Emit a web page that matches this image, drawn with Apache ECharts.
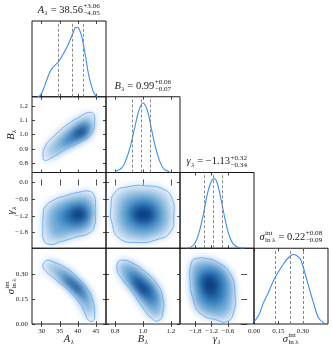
<!DOCTYPE html>
<html>
<head>
<meta charset="utf-8">
<script src="https://cdn.jsdelivr.net/npm/echarts@6/dist/echarts.min.js"></script>
<style>
  html, body { margin: 0; padding: 0; background: #fff; }
  #chart { width: 332px; height: 348px; }
</style>
</head>
<body>
<div id="chart"></div>
<script>
// ---- data ----
// 1D marginals (relative density, peak = 1)
const A_grid = [28.8, 29.6, 30.4, 31.3, 32.3, 33.2, 34.6, 36.0, 37.4, 38.6, 39.5, 40.2, 41.1, 42.0, 42.9, 43.8, 44.6, 45.4]
const A_dens = [0.0, 0.02, 0.10, 0.23, 0.36, 0.43, 0.50, 0.62, 0.76, 0.91, 1.0, 0.99, 0.86, 0.62, 0.34, 0.15, 0.04, 0.0]
const B_grid = [0.80, 0.85, 0.88, 0.91, 0.94, 0.97, 1.00, 1.03, 1.06, 1.09, 1.12, 1.15, 1.19]
const B_dens = [0.01, 0.07, 0.19, 0.38, 0.64, 0.89, 1.0, 0.90, 0.63, 0.36, 0.16, 0.05, 0.01]
const g_grid = [-2.1, -1.95, -1.8, -1.65, -1.5, -1.35, -1.2, -1.1, -1.0, -0.85, -0.7, -0.55, -0.4, -0.2, 0.0]
const g_dens = [0.0, 0.02, 0.08, 0.24, 0.49, 0.79, 0.97, 1.0, 0.95, 0.70, 0.41, 0.18, 0.06, 0.01, 0.0]
const s_grid = [0.0, 0.03, 0.057, 0.09, 0.119, 0.15, 0.18, 0.21, 0.242, 0.283, 0.30, 0.324, 0.345, 0.365, 0.396, 0.426, 0.45]
const s_dens = [0.03, 0.13, 0.30, 0.46, 0.62, 0.75, 0.86, 0.95, 1.0, 0.94, 0.84, 0.64, 0.47, 0.31, 0.09, 0.02, 0.0]

// 16/50/84 percentiles
const A_q = [34.51, 38.56, 41.62]
const B_q = [0.92, 0.99, 1.05]
const g_q = [-1.47, -1.13, -0.81]
const s_q = [0.13, 0.22, 0.30]

// tick labels
const A_ticks = [30, 35, 40, 45]
const B_xticks = [0.8, 1.0, 1.2]
const B_yticks = [0.8, 0.9, 1.0, 1.1, 1.2]
const g_xticks = [-1.8, -1.2, -0.6]
const g_yticks = [0.0, -0.6, -1.2, -1.8]
const s_ticks = [0.0, 0.15, 0.30]

// 2D densities: outer contour, mid, inner, core levels
const AB_c = [[30.4,0.832],[30.9,0.914],[33.2,0.985],[36.9,1.067],[40.6,1.126],[42.9,1.154],[44.3,1.145],[44.6,1.079],[43.8,1.008],[41.5,0.961],[36.9,0.902],[32.3,0.832],[30.9,0.82]]
const AB_m = [[32.5,0.88],[35,0.96],[38.5,1.04],[41.5,1.09],[43.5,1.10],[43.6,1.05],[42,0.99],[38.5,0.94],[34.5,0.88],[32.5,0.85]]
const AB_i = [[35.5,0.94],[38.5,1.01],[41.5,1.07],[43,1.065],[42.5,1.01],[40,0.97],[37,0.93]]
const AB_k = [[38.5,0.99],[40.5,1.035],[42,1.05],[42,1.01],[40.5,0.99]]

const Ag_c = [[30.4,-1.18],[30.9,-0.88],[33.2,-0.64],[36.9,-0.46],[40.6,-0.34],[42.9,-0.31],[44.5,-0.46],[44.8,-1.0],[44.5,-1.6],[42.9,-1.83],[39.7,-1.95],[35.1,-2.13],[32.3,-2.22],[30.6,-2.07],[30.3,-1.6]]
const Ag_m = [[32,-1.5],[32.5,-1.0],[35,-0.75],[38.5,-0.6],[42,-0.55],[43.8,-0.75],[43.8,-1.35],[42,-1.7],[38,-1.82],[34,-1.95]]
const Ag_i = [[35,-1.3],[36.5,-0.95],[39.5,-0.8],[42.3,-0.85],[43,-1.2],[41.5,-1.5],[38,-1.55]]
const Ag_k = [[38,-1.15],[39.5,-0.95],[41.5,-1.0],[42,-1.2],[40.5,-1.35],[38.5,-1.3]]

const As_c = [[30.9,0.373],[30.3,0.353],[30.9,0.323],[34.1,0.263],[37.8,0.193],[40.6,0.124],[42.0,0.064],[42.9,0.024],[44.3,0.02],[44.6,0.064],[44.1,0.144],[42.5,0.214],[40.1,0.274],[36.9,0.334],[33.2,0.373],[31.8,0.383]]
const As_m = [[32,0.35],[35,0.29],[38.5,0.215],[41.2,0.14],[42.8,0.06],[43.8,0.07],[43.4,0.15],[41.5,0.22],[38.5,0.28],[35,0.335],[32.5,0.365]]
const As_i = [[34.5,0.3],[37.5,0.24],[40.5,0.17],[42.2,0.13],[42,0.19],[39.5,0.25],[36,0.305]]
const As_k = [[36.5,0.26],[38.5,0.225],[40.5,0.185],[40.5,0.215],[38.5,0.25],[37,0.27]]

const Bg_c = [[0.80,-0.35],[0.90,-0.15],[1.02,-0.12],[1.15,-0.25],[1.21,-0.6],[1.22,-1.2],[1.2,-1.75],[1.1,-2.05],[0.95,-2.15],[0.83,-2.0],[0.78,-1.5],[0.77,-0.9]]
const Bg_m = [[0.83,-1.0],[0.86,-0.55],[0.96,-0.4],[1.1,-0.5],[1.16,-0.9],[1.16,-1.5],[1.08,-1.85],[0.94,-1.9],[0.85,-1.6]]
const Bg_i = [[0.89,-1.0],[0.95,-0.7],[1.06,-0.72],[1.11,-1.1],[1.08,-1.5],[0.97,-1.6],[0.9,-1.35]]
const Bg_k = [[0.94,-1.05],[1.0,-0.9],[1.06,-1.0],[1.06,-1.3],[1.0,-1.4],[0.95,-1.3]]

const Bs_c = [[0.823,0.373],[0.816,0.323],[0.847,0.274],[0.93,0.184],[1.002,0.094],[1.062,0.034],[1.11,0.02],[1.141,0.064],[1.141,0.163],[1.098,0.244],[1.002,0.323],[0.907,0.373],[0.847,0.383]]
const Bs_m = [[0.84,0.35],[0.87,0.28],[0.95,0.19],[1.04,0.09],[1.11,0.05],[1.125,0.13],[1.09,0.22],[1.0,0.3],[0.9,0.36]]
const Bs_i = [[0.89,0.3],[0.95,0.22],[1.03,0.14],[1.09,0.12],[1.08,0.2],[1.0,0.27],[0.93,0.31]]
const Bs_k = [[0.93,0.26],[0.98,0.2],[1.03,0.17],[1.04,0.21],[0.99,0.25],[0.95,0.27]]

const gs_c = [[-1.93,0.373],[-1.99,0.263],[-1.87,0.144],[-1.62,0.064],[-1.01,0.024],[-0.64,0.014],[-0.40,0.064],[-0.34,0.184],[-0.52,0.304],[-1.01,0.373],[-1.38,0.393],[-1.75,0.393]]
const gs_m = [[-1.85,0.35],[-1.87,0.24],[-1.72,0.11],[-1.2,0.06],[-0.7,0.06],[-0.48,0.15],[-0.55,0.28],[-1.0,0.355],[-1.5,0.37]]
const gs_i = [[-1.65,0.3],[-1.65,0.2],[-1.35,0.12],[-0.9,0.12],[-0.7,0.2],[-0.85,0.3],[-1.25,0.33]]
const gs_k = [[-1.5,0.27],[-1.45,0.2],[-1.2,0.17],[-1.0,0.2],[-1.05,0.27],[-1.3,0.29]]

// ---- layout / style ----
const L = 32, T = 21, W = 74, H = 75.75
const FONT = '"Liberation Serif", "DejaVu Serif", serif'
const INK = '#1a1a1a'
const LINE_BLUE = '#3590f0'
const FILLS = ['#c2d9ef', '#6eaad6', '#2a74b6', '#0b3f80']
const BLURS = [9, 9, 8, 7]
const OFF = 3000 // shapes drawn off-canvas, only their blurred shadow lands in the panel

const vars = ['A', 'B', 'g', 's']
const ranges = { A: [27.3, 47.8], B: [0.735, 1.265], g: [-2.36, 0.36], s: [0, 0.455] }
const xTicks = { A: A_ticks, B: B_xticks, g: g_xticks, s: s_ticks }
const yTicks = { B: B_yticks, g: g_yticks, s: s_ticks }
const minus = v => (v < 0 ? '\u2212' : '')
const fmt = {
  A: v => String(v),
  B: v => v.toFixed(1),
  g: v => minus(v) + Math.abs(v).toFixed(1),
  s: v => v.toFixed(2)
}
const marg = {
  A: [A_grid, A_dens, A_q], B: [B_grid, B_dens, B_q],
  g: [g_grid, g_dens, g_q], s: [s_grid, s_dens, s_q]
}
const joint = {
  'A|B': [AB_c, AB_m, AB_i, AB_k], 'A|g': [Ag_c, Ag_m, Ag_i, Ag_k], 'A|s': [As_c, As_m, As_i, As_k],
  'B|g': [Bg_c, Bg_m, Bg_i, Bg_k], 'B|s': [Bs_c, Bs_m, Bs_i, Bs_k], 'g|s': [gs_c, gs_m, gs_i, gs_k]
}

const grids = [], xAxes = [], yAxes = [], series = []

function tickCfg(vals) {
  return { show: true, inside: true, length: 3, customValues: vals, lineStyle: { color: INK, width: 0.8 } }
}
function labelCfg(show, vals, f) {
  return { show: show, customValues: vals, formatter: f, fontSize: 7, color: INK, fontFamily: FONT, margin: 4 }
}

for (let i = 0; i < 4; i++) {
  for (let j = 0; j <= i; j++) {
    const gi = grids.length
    const xv = vars[j], yv = vars[i]
    grids.push({
      left: L + j * W, top: T + i * H, width: W, height: H,
      show: true, borderColor: INK, borderWidth: 1, backgroundColor: 'rgba(0,0,0,0)',
      containLabel: false, outerBoundsMode: 'none'
    })
    const xi = xAxes.length
    xAxes.push({
      gridIndex: gi, type: 'value', min: ranges[xv][0], max: ranges[xv][1], position: 'bottom',
      axisLine: { show: false }, splitLine: { show: false },
      axisTick: tickCfg(xTicks[xv]), axisLabel: labelCfg(i === 3, xTicks[xv], fmt[xv])
    })
    xAxes.push({
      gridIndex: gi, type: 'value', min: ranges[xv][0], max: ranges[xv][1], position: 'top',
      axisLine: { show: false }, splitLine: { show: false },
      axisTick: tickCfg(xTicks[xv]), axisLabel: { show: false }
    })
    const yi = yAxes.length
    if (i === j) {
      yAxes.push({ gridIndex: gi, type: 'value', min: 0, max: 1.09, show: false })
      const [gx, gd, q] = marg[xv]
      series.push({
        type: 'line', xAxisIndex: xi, yAxisIndex: yi, smooth: 0.35, showSymbol: false,
        data: gx.map((v, k) => [v, gd[k]]), lineStyle: { color: LINE_BLUE, width: 1.1 },
        markLine: {
          silent: true, symbol: 'none', label: { show: false },
          lineStyle: { type: [3, 2], color: '#7a7a7a', width: 0.9 },
          data: q.map(v => ({ xAxis: v }))
        }
      })
    } else {
      yAxes.push({
        gridIndex: gi, type: 'value', min: ranges[yv][0], max: ranges[yv][1], position: 'left',
        axisLine: { show: false }, splitLine: { show: false },
        axisTick: tickCfg(yTicks[yv]), axisLabel: labelCfg(j === 0, yTicks[yv], fmt[yv])
      })
      yAxes.push({
        gridIndex: gi, type: 'value', min: ranges[yv][0], max: ranges[yv][1], position: 'right',
        axisLine: { show: false }, splitLine: { show: false },
        axisTick: tickCfg(yTicks[yv]), axisLabel: { show: false }
      })
      const polys = joint[xv + '|' + yv]
      const layers = [polys[0], polys[1], polys[2], polys[3], polys[0]]
      series.push({
        type: 'custom', xAxisIndex: xi, yAxisIndex: yi, clip: true, silent: true,
        data: layers.map((p, k) => [k]),
        renderItem: function (params, api) {
          const k = params.dataIndex
          const pts = layers[k].map(p => api.coord(p))
          if (k < 4) {
            return {
              type: 'polygon', x: -OFF,
              shape: { points: pts, smooth: 0.55 },
              style: { fill: FILLS[k], shadowBlur: BLURS[k], shadowColor: FILLS[k], shadowOffsetX: OFF }
            }
          }
          return {
            type: 'polygon', shape: { points: pts, smooth: 0.55 },
            style: { fill: 'none', stroke: '#64a8ef', lineWidth: 0.9 }
          }
        }
      })
    }
  }
}

// ---- math-like text (sub/superscripts) ----
const mctx = document.createElement('canvas').getContext('2d')
function measure(t, size, it) {
  mctx.font = (it ? 'italic ' : '') + size + 'px ' + FONT
  return mctx.measureText(t).width
}
function txt(t, x, y, size, it) {
  return {
    type: 'text', x: x, y: y, silent: true,
    style: {
      text: t, fontSize: size, fontFamily: FONT, fontStyle: it ? 'italic' : 'normal', fill: INK,
      align: 'left', verticalAlign: 'middle', textAlign: 'left', textVerticalAlign: 'middle'
    }
  }
}
function mathGroup(parts, size, cx, cy, rot) {
  const kids = []
  let x = 0
  parts.forEach(p => {
    if (p.t) {
      kids.push(txt(p.t, x, 0, size, p.it))
      x += measure(p.t, size, p.it)
    }
    if (p.sup || p.sub) {
      const s = size * 0.68
      let w = 0
      if (p.sup) { kids.push(txt(p.sup, x + 0.4, -size * 0.36, s, p.supIt)); w = Math.max(w, measure(p.sup, s, p.supIt)) }
      if (p.sub) { kids.push(txt(p.sub, x + 0.4, size * 0.32, s, p.subIt)); w = Math.max(w, measure(p.sub, s, p.subIt)) }
      x += w + 0.8
    }
  })
  kids.forEach(k => { k.x -= x / 2 })
  return { type: 'group', x: cx, y: cy, rotation: rot || 0, silent: true, children: kids }
}

const sym = {
  A: [{ t: 'A', it: true, sub: '\u03bb', subIt: true }],
  B: [{ t: 'B', it: true, sub: '\u03bb', subIt: true }],
  g: [{ t: '\u03b3', it: true, sub: '\u03bb', subIt: true }],
  s: [{ t: '\u03c3', it: true, sup: 'int', sub: 'ln\u2009\u03bb' }]
}
const num = v => minus(v) + Math.abs(v).toFixed(2)

const graphics = []
vars.forEach((v, j) => {
  const q = marg[v][2]
  const parts = sym[v].concat([{
    t: ' = ' + num(q[1]),
    sup: '+' + (q[2] - q[1]).toFixed(2),
    sub: '\u2212' + (q[1] - q[0]).toFixed(2)
  }])
  graphics.push(mathGroup(parts, 10.5, L + j * W + W / 2, T + j * H - 11))
  // x axis label
  graphics.push(mathGroup(sym[v], 10.5, L + j * W + W / 2, 339))
  // y axis label
  if (j > 0) graphics.push(mathGroup(sym[v], 10.5, 11, T + j * H + H / 2, Math.PI / 2))
})

const chart = echarts.init(document.getElementById('chart'), null, { renderer: 'canvas' })
chart.setOption({
  animation: false,
  backgroundColor: '#fff',
  grid: grids,
  xAxis: xAxes,
  yAxis: yAxes,
  series: series,
  graphic: graphics
})
</script>
</body>
</html>
